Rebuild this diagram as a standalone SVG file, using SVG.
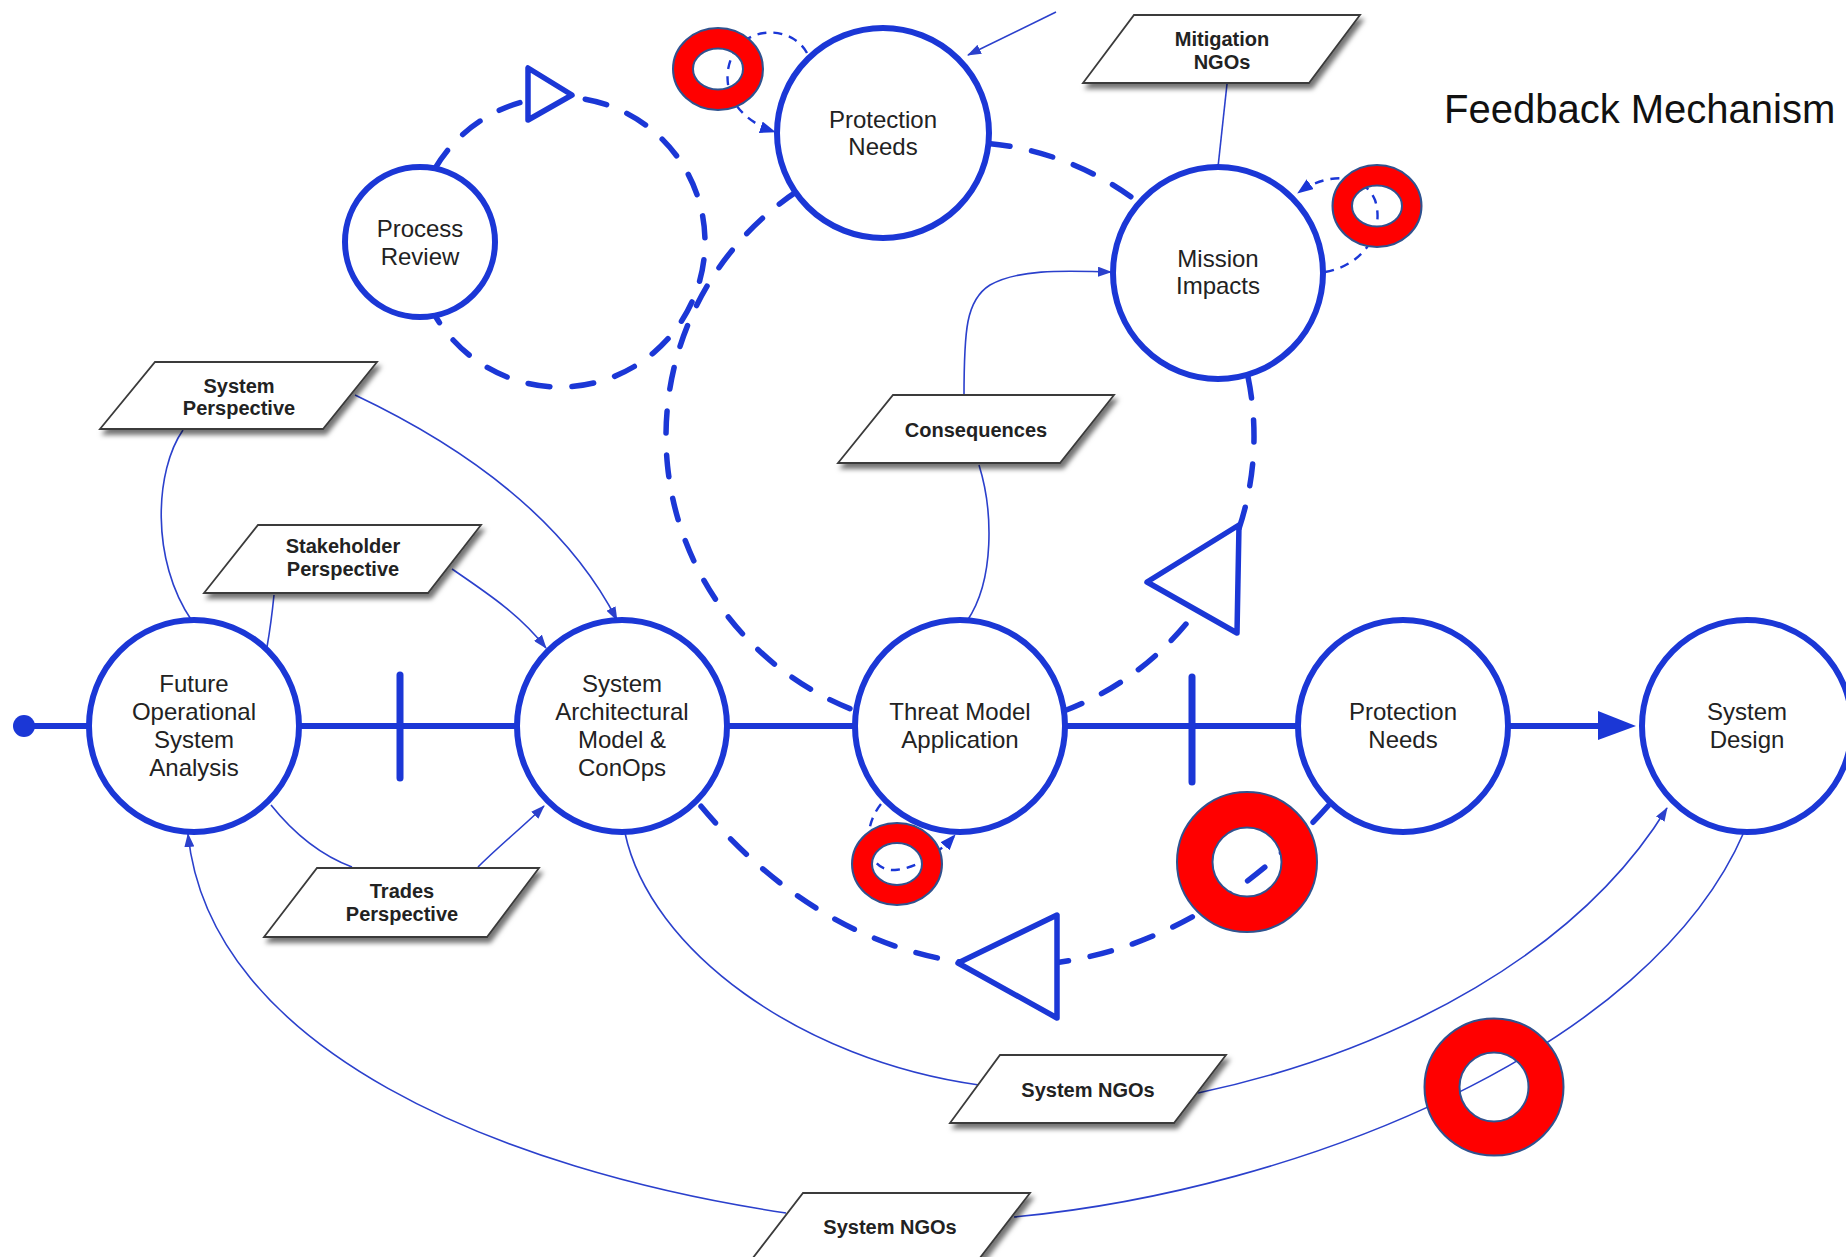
<svg xmlns="http://www.w3.org/2000/svg" width="1846" height="1257" viewBox="0 0 1846 1257">
  <defs>
    <style>
      .node { fill: #ffffff; stroke: #1b37d6; stroke-width: 6; }
      .lbl { font-family: "Liberation Sans", Arial, sans-serif; font-size: 24px; fill: #222; text-anchor: middle; }
      .plbl { font-family: "Liberation Sans", Arial, sans-serif; font-size: 20px; font-weight: bold; fill: #222; text-anchor: middle; }
      .para { fill: #ffffff; stroke: #3a3a3a; stroke-width: 1.8; filter: url(#shadow); }
      .main { stroke: #1b37d6; stroke-width: 6; fill: none; }
      .tick { stroke: #1b37d6; stroke-width: 7; stroke-linecap: round; }
      .thin { stroke: #2b40cc; stroke-width: 1.6; fill: none; }
      .thin-arrow { stroke: #2b40cc; stroke-width: 1.6; fill: none; marker-end: url(#ah); }
      .loop { stroke: #1b37d6; stroke-width: 5.5; fill: none; stroke-dasharray: 22 22; stroke-linecap: round; }
      .mini { stroke: #1b37d6; stroke-width: 2.4; fill: none; stroke-dasharray: 9 7; marker-end: url(#ah2); }
      .tri { fill: #ffffff; stroke: #1b37d6; stroke-width: 5.5; stroke-linejoin: round; }
      .ring { fill: #ff0000; fill-rule: evenodd; stroke: #2f528f; stroke-width: 2; }
    </style>
    <filter id="shadow" x="-10%" y="-20%" width="130%" height="160%">
      <feDropShadow dx="3" dy="5" stdDeviation="2.5" flood-color="#000" flood-opacity="0.55"/>
    </filter>
    <marker id="ah" viewBox="0 0 14 10" refX="13" refY="5" markerWidth="14" markerHeight="10" markerUnits="userSpaceOnUse" orient="auto">
      <path d="M0,0 L14,5 L0,10 z" fill="#2b40cc"/>
    </marker>
    <marker id="ah2" viewBox="0 0 16 12" refX="15" refY="6" markerWidth="16" markerHeight="12" markerUnits="userSpaceOnUse" orient="auto">
      <path d="M0,0 L16,6 L0,12 z" fill="#1b37d6"/>
    </marker>
  </defs>

  <rect width="1846" height="1257" fill="#ffffff"/>

  <!-- connectors -->
  <g id="connectors">
    <!-- main process axis -->
    <circle cx="24" cy="726" r="11" fill="#1b37d6"/>
    <line class="main" x1="24" y1="726" x2="91" y2="726"/>
    <line class="main" x1="298" y1="726" x2="517" y2="726"/>
    <line class="main" x1="727" y1="726" x2="855" y2="726"/>
    <line class="main" x1="1065" y1="726" x2="1298" y2="726"/>
    <line class="main" x1="1508" y1="726" x2="1602" y2="726"/>
    <polygon points="1598,711 1636,726 1598,740" fill="#1b37d6"/>
    <line class="tick" x1="400" y1="675" x2="400" y2="778"/>
    <line class="tick" x1="1192" y1="677" x2="1192" y2="782"/>

    <!-- thin information flows -->
    <path class="thin" d="M 183 430 C 155 470, 150 560, 192 621"/>
    <path class="thin-arrow" d="M 355 395 C 450 440, 560 510, 617 620"/>
    <path class="thin" d="M 274 595 C 272 615, 270 630, 267 647"/>
    <path class="thin-arrow" d="M 452 569 C 490 595, 520 615, 546 648"/>
    <path class="thin" d="M 271 805 C 295 835, 320 855, 352 867"/>
    <path class="thin-arrow" d="M 478 867 C 500 845, 525 825, 544 806"/>
    <path class="thin-arrow" d="M 786 1213 C 500 1170, 210 1050, 188 834"/>
    <path class="thin" d="M 1014 1217 C 1300 1190, 1650 1050, 1744 832"/>
    <path class="thin" d="M 625 833 C 650 950, 800 1060, 979 1085"/>
    <path class="thin-arrow" d="M 1198 1093 C 1400 1050, 1580 950, 1667 808"/>
    <path class="thin-arrow" d="M 964 397 C 964 330, 966 300, 990 285 C 1020 268, 1070 271, 1111 272"/>
    <path class="thin" d="M 979 465 C 993 510, 995 580, 967 621"/>
    <path class="thin" d="M 1227 84 L 1218 167"/>
    <path class="thin-arrow" d="M 1056 12 L 968 55"/>

    <!-- process review feedback loop -->
    <path class="loop" d="M 435 168.5 A 145 145 0 1 1 435 315.5"/>
    <polygon class="tri" points="528,68 528,120 572,95"/>

    <!-- threat / protection / mission feedback loop -->
    <path class="loop" d="M 849.9 708.6 A 294 294 0 0 1 796.9 191.4"/>
    <path class="loop" d="M 988.2 143.4 A 294 294 0 0 1 1140.2 203.7"/>
    <path class="loop" d="M 1247.9 376.4 A 294 294 0 0 1 1063.9 711"/>
    <polygon class="tri" points="1239,525 1237,633 1147,582"/>

    <!-- protection needs back to architecture loop -->
    <path class="loop" d="M 1328 806 C 1139 1019, 878 1019, 700 805"/>
    <polygon class="tri" points="1057,915 1057,1018 958,963"/>

    <!-- self loops -->
    <path class="mini" d="M 807 53 C 790 22, 735 25, 728 70 C 724 100, 745 122, 775 132"/>
    <path class="mini" d="M 1325 272 C 1365 265, 1385 230, 1375 200 C 1365 175, 1330 170, 1298 193"/>
    <path class="mini" d="M 881 804 C 860 830, 866 872, 895 870 C 918 868, 940 852, 955 835"/>
  </g>

  <!-- process nodes -->
  <g id="future-operational-system-analysis">
    <ellipse class="node" cx="194" cy="726" rx="105" ry="106"/>
    <text class="lbl" x="194" y="692">Future</text>
    <text class="lbl" x="194" y="720">Operational</text>
    <text class="lbl" x="194" y="748">System</text>
    <text class="lbl" x="194" y="776">Analysis</text>
  </g>
  <g id="system-architectural-model">
    <ellipse class="node" cx="622" cy="726" rx="105" ry="106"/>
    <text class="lbl" x="622" y="692">System</text>
    <text class="lbl" x="622" y="720">Architectural</text>
    <text class="lbl" x="622" y="748">Model &amp;</text>
    <text class="lbl" x="622" y="776">ConOps</text>
  </g>
  <g id="threat-model-application">
    <ellipse class="node" cx="960" cy="726" rx="105" ry="106"/>
    <text class="lbl" x="960" y="720">Threat Model</text>
    <text class="lbl" x="960" y="748">Application</text>
  </g>
  <g id="protection-needs-main">
    <ellipse class="node" cx="1403" cy="726" rx="105" ry="106"/>
    <text class="lbl" x="1403" y="720">Protection</text>
    <text class="lbl" x="1403" y="748">Needs</text>
  </g>
  <g id="system-design">
    <ellipse class="node" cx="1747" cy="726" rx="105" ry="106"/>
    <text class="lbl" x="1747" y="720">System</text>
    <text class="lbl" x="1747" y="748">Design</text>
  </g>
  <g id="process-review">
    <circle class="node" cx="420" cy="242" r="75" stroke-width="5.5"/>
    <text class="lbl" x="420" y="237">Process</text>
    <text class="lbl" x="420" y="265">Review</text>
  </g>
  <g id="protection-needs-loop">
    <ellipse class="node" cx="883" cy="133" rx="106" ry="105"/>
    <text class="lbl" x="883" y="128">Protection</text>
    <text class="lbl" x="883" y="155">Needs</text>
  </g>
  <g id="mission-impacts">
    <ellipse class="node" cx="1218" cy="273" rx="105" ry="106"/>
    <text class="lbl" x="1218" y="267">Mission</text>
    <text class="lbl" x="1218" y="294">Impacts</text>
  </g>

  <!-- data items -->
  <g id="system-perspective">
    <polygon class="para" points="155,362 377,362 323,429 100,429"/>
    <text class="plbl" x="239" y="393">System</text>
    <text class="plbl" x="239" y="415">Perspective</text>
  </g>
  <g id="stakeholder-perspective">
    <polygon class="para" points="258,525 481,525 428,593 204,593"/>
    <text class="plbl" x="343" y="553">Stakeholder</text>
    <text class="plbl" x="343" y="576">Perspective</text>
  </g>
  <g id="trades-perspective">
    <polygon class="para" points="317,868 539,868 487,937 264,937"/>
    <text class="plbl" x="402" y="898">Trades</text>
    <text class="plbl" x="402" y="921">Perspective</text>
  </g>
  <g id="consequences">
    <polygon class="para" points="893,395 1114,395 1060,463 838,463"/>
    <text class="plbl" x="976" y="437">Consequences</text>
  </g>
  <g id="mitigation-ngos">
    <polygon class="para" points="1134,15 1360,15 1309,83 1083,83"/>
    <text class="plbl" x="1222" y="46">Mitigation</text>
    <text class="plbl" x="1222" y="69">NGOs</text>
  </g>
  <g id="system-ngos-upper">
    <polygon class="para" points="1000,1055 1226,1055 1174,1123 950,1123"/>
    <text class="plbl" x="1088" y="1097">System NGOs</text>
  </g>
  <g id="system-ngos-lower">
    <polygon class="para" points="803,1193 1030,1193 976,1263 749,1263"/>
    <text class="plbl" x="890" y="1234">System NGOs</text>
  </g>

  <!-- heading -->
  <text x="1444" y="123" font-family="'Liberation Sans', Arial, sans-serif" font-size="40" fill="#111">Feedback Mechanism</text>

  <!-- highlight rings -->
  <g id="highlights">
    <path class="ring" d="M 673 69 a 45 41 0 1 0 90 0 a 45 41 0 1 0 -90 0 Z M 693 69 a 25 20.5 0 1 0 50 0 a 25 20.5 0 1 0 -50 0 Z"/>
    <path class="ring" d="M 1332.5 206 a 44.5 41 0 1 0 89 0 a 44.5 41 0 1 0 -89 0 Z M 1352 206 a 25 20.5 0 1 0 50 0 a 25 20.5 0 1 0 -50 0 Z"/>
    <path class="ring" d="M 852 864 a 45 41 0 1 0 90 0 a 45 41 0 1 0 -90 0 Z M 872 864 a 25 21 0 1 0 50 0 a 25 21 0 1 0 -50 0 Z"/>
    <path class="ring" d="M 1177 862 a 70 70 0 1 0 140 0 a 70 70 0 1 0 -140 0 Z M 1212.5 862 a 34.5 34.5 0 1 0 69 0 a 34.5 34.5 0 1 0 -69 0 Z"/>
    <path class="ring" d="M 1424.5 1087 a 69.5 68.5 0 1 0 139 0 a 69.5 68.5 0 1 0 -139 0 Z M 1459.5 1087 a 34.5 34.5 0 1 0 69 0 a 34.5 34.5 0 1 0 -69 0 Z"/>
  </g>
</svg>
